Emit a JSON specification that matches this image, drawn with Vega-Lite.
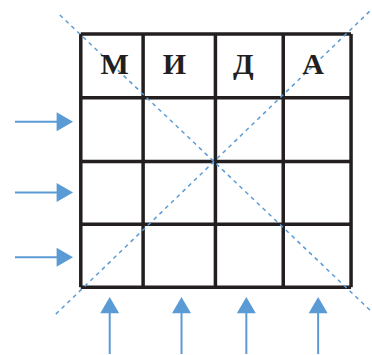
{
  "$schema": "https://vega.github.io/schema/vega-lite/v6.json",
  "width": 372,
  "height": 355,
  "padding": 0,
  "autosize": {"type": "fit", "contains": "padding"},
  "config": {"view": {"stroke": null}, "axis": {"disable": true}},
  "datasets": {
    "grid": [
      {"x": 81, "y": 34, "x2": 81, "y2": 288},
      {"x": 143.5, "y": 34, "x2": 143.5, "y2": 288},
      {"x": 216, "y": 34, "x2": 216, "y2": 288},
      {"x": 284, "y": 34, "x2": 284, "y2": 288},
      {"x": 352, "y": 34, "x2": 352, "y2": 288},
      {"x": 81, "y": 34, "x2": 352, "y2": 34},
      {"x": 81, "y": 98, "x2": 352, "y2": 98},
      {"x": 81, "y": 162, "x2": 352, "y2": 162},
      {"x": 81, "y": 225, "x2": 352, "y2": 225},
      {"x": 81, "y": 288, "x2": 352, "y2": 288}
    ],
    "diag": [
      {"x": 60, "y": 15, "x2": 372, "y2": 312},
      {"x": 56, "y": 315, "x2": 372, "y2": 10}
    ],
    "shafts": [
      {"x": 15, "y": 122, "x2": 60, "y2": 122},
      {"x": 15, "y": 193, "x2": 60, "y2": 193},
      {"x": 15, "y": 258, "x2": 60, "y2": 258},
      {"x": 110, "y": 310, "x2": 110, "y2": 355},
      {"x": 182, "y": 310, "x2": 182, "y2": 355},
      {"x": 247, "y": 310, "x2": 247, "y2": 355},
      {"x": 319, "y": 310, "x2": 319, "y2": 355}
    ],
    "heads": [
      {"x": 65, "y": 122, "dir": "triangle-right"},
      {"x": 65, "y": 193, "dir": "triangle-right"},
      {"x": 65, "y": 258, "dir": "triangle-right"},
      {"x": 110, "y": 306, "dir": "triangle-up"},
      {"x": 182, "y": 306, "dir": "triangle-up"},
      {"x": 247, "y": 306, "dir": "triangle-up"},
      {"x": 319, "y": 306, "dir": "triangle-up"}
    ],
    "letters": [
      {"x": 115, "y": 65, "t": "М"},
      {"x": 175, "y": 65, "t": "И"},
      {"x": 244, "y": 65, "t": "Д"},
      {"x": 314, "y": 65, "t": "А"}
    ]
  },
  "layer": [
    {
      "data": {"name": "grid"},
      "mark": {"type": "rule", "stroke": "#231f20", "strokeWidth": 3.5},
      "encoding": {
        "x": {"field": "x", "type": "quantitative", "scale": {"domain": [0, 372], "nice": false, "zero": false}},
        "y": {"field": "y", "type": "quantitative", "scale": {"domain": [0, 355], "nice": false, "zero": false, "reverse": true}},
        "x2": {"field": "x2"},
        "y2": {"field": "y2"}
      }
    },
    {
      "data": {"name": "diag"},
      "mark": {"type": "rule", "stroke": "#5b9bd5", "strokeWidth": 1.5, "strokeDash": [4, 4]},
      "encoding": {
        "x": {"field": "x", "type": "quantitative"},
        "y": {"field": "y", "type": "quantitative"},
        "x2": {"field": "x2"},
        "y2": {"field": "y2"}
      }
    },
    {
      "data": {"name": "shafts"},
      "mark": {"type": "rule", "stroke": "#5b9bd5", "strokeWidth": 2},
      "encoding": {
        "x": {"field": "x", "type": "quantitative"},
        "y": {"field": "y", "type": "quantitative"},
        "x2": {"field": "x2"},
        "y2": {"field": "y2"}
      }
    },
    {
      "data": {"name": "heads"},
      "mark": {"type": "point", "filled": true, "color": "#5b9bd5", "opacity": 1, "size": 360},
      "encoding": {
        "x": {"field": "x", "type": "quantitative"},
        "y": {"field": "y", "type": "quantitative"},
        "shape": {"field": "dir", "type": "nominal", "scale": null, "legend": null}
      }
    },
    {
      "data": {"name": "letters"},
      "mark": {"type": "text", "font": "Liberation Serif", "fontWeight": "bold", "fontSize": 30, "baseline": "middle", "align": "center", "color": "#231f20"},
      "encoding": {
        "x": {"field": "x", "type": "quantitative"},
        "y": {"field": "y", "type": "quantitative"},
        "text": {"field": "t"}
      }
    }
  ]
}
